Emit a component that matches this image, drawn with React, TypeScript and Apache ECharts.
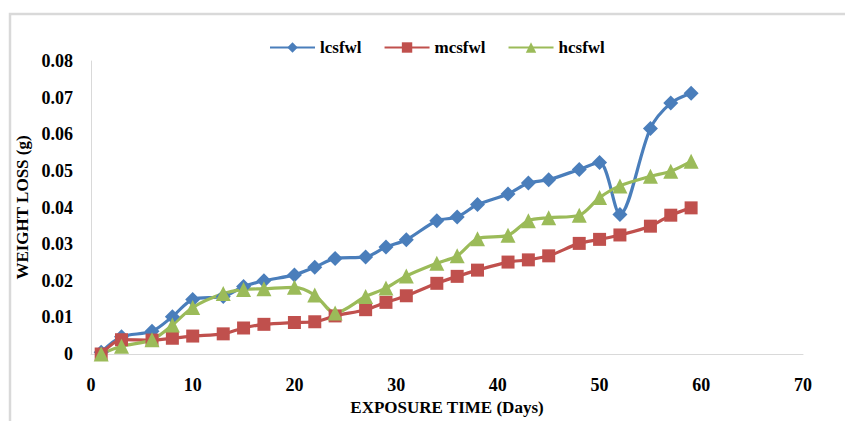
import React, { useEffect, useRef } from "react";
import * as echarts from "echarts";

const days = [1, 3, 6, 8, 10, 13, 15, 17, 20, 22, 24, 27, 29, 31, 34, 36, 38, 41, 43, 45, 48, 50, 52, 55, 57, 59];
const lcsfwl = [0.0005, 0.0047, 0.0062, 0.0102, 0.0149, 0.0157, 0.0184, 0.02, 0.0216, 0.0237, 0.0261, 0.0265, 0.0292, 0.0312, 0.0364, 0.0374, 0.0408, 0.0437, 0.0467, 0.0476, 0.0504, 0.0523, 0.0381, 0.0616, 0.0685, 0.0712];
const mcsfwl = [0, 0.0039, 0.0038, 0.0043, 0.0049, 0.0055, 0.0071, 0.0081, 0.0086, 0.0088, 0.0104, 0.0121, 0.0141, 0.0159, 0.0193, 0.0212, 0.0229, 0.0251, 0.0257, 0.0268, 0.0302, 0.0313, 0.0325, 0.0349, 0.0379, 0.0399];
const hcsfwl = [0, 0.0021, 0.0039, 0.0079, 0.0127, 0.0165, 0.0176, 0.0178, 0.0182, 0.0161, 0.0112, 0.0157, 0.018, 0.0213, 0.0248, 0.0268, 0.0315, 0.0324, 0.0364, 0.0372, 0.0379, 0.0427, 0.0459, 0.0485, 0.0499, 0.0526];
const seriesNames = ["lcsfwl", "mcsfwl", "hcsfwl"];
const xTitle = "EXPOSURE TIME (Days)";
const yTitle = "WEIGHT LOSS (g)";

const FONT = "'Liberation Serif', 'Times New Roman', serif";

export default function App() {
  const ref = useRef<HTMLDivElement>(null);
  useEffect(() => {
    if (!ref.current) return;
    const chart = echarts.init(ref.current, null, { renderer: "svg" });
    const mk = (vals: number[]) => days.map((d, i) => [d, vals[i]]);
    const common = {
      type: "line",
      smooth: 0.3,
      lineStyle: { width: 3.2 },
    };
    chart.setOption({
      animation: false,
      backgroundColor: "#fff",
      graphic: [
        {
          type: "rect",
          shape: { x: 10, y: 14, width: 900, height: 500 },
          style: { fill: "none", stroke: "#d9d9d9", lineWidth: 2.5 },
          silent: true,
        },
      ],
      legend: {
        top: 34,
        left: 264,
        itemWidth: 45,
        itemHeight: 13,
        itemGap: 22,
        textStyle: { fontFamily: FONT, fontWeight: "bold", fontSize: 17, color: "#000" },
        data: seriesNames,
      },
      grid: { left: 91, right: 42, top: 61, bottom: 52, containLabel: false },
      xAxis: {
        type: "value",
        min: 0,
        max: 70,
        interval: 10,
        name: xTitle,
        nameLocation: "middle",
        nameGap: 45,
        nameTextStyle: { fontFamily: FONT, fontWeight: "bold", fontSize: 17, color: "#000" },
        axisLine: { show: true, lineStyle: { color: "#d9d9d9", width: 1 } },
        axisTick: { show: false },
        splitLine: { show: false },
        axisLabel: { margin: 22, fontFamily: FONT, fontWeight: "bold", fontSize: 18, color: "#000" },
      },
      yAxis: {
        type: "value",
        min: 0,
        max: 0.08,
        interval: 0.01,
        name: yTitle,
        nameLocation: "middle",
        nameGap: 44,
        nameTextStyle: { fontFamily: FONT, fontWeight: "bold", fontSize: 17, color: "#000" },
        axisLine: { show: true, lineStyle: { color: "#d9d9d9", width: 1 } },
        axisTick: { show: false },
        splitLine: { show: false },
        axisLabel: {
          margin: 18,
          fontFamily: FONT,
          fontWeight: "bold",
          fontSize: 18,
          color: "#000",
          formatter: (v: number) => (v === 0 ? "0" : v.toFixed(2)),
        },
      },
      series: [
        { ...common, name: seriesNames[0], symbol: "diamond", symbolSize: 15, color: "#4a7ebb", data: mk(lcsfwl) },
        { ...common, name: seriesNames[1], symbol: "rect", symbolSize: 13, color: "#c0504d", data: mk(mcsfwl) },
        { ...common, name: seriesNames[2], symbol: "triangle", symbolSize: 15, color: "#9bbb59", data: mk(hcsfwl) },
      ],
    });
    return () => chart.dispose();
  }, []);
  return (
    <div
      ref={ref}
      style={{ position: "fixed", left: 0, top: 0, width: 845, height: 421 }}
    />
  );
}
